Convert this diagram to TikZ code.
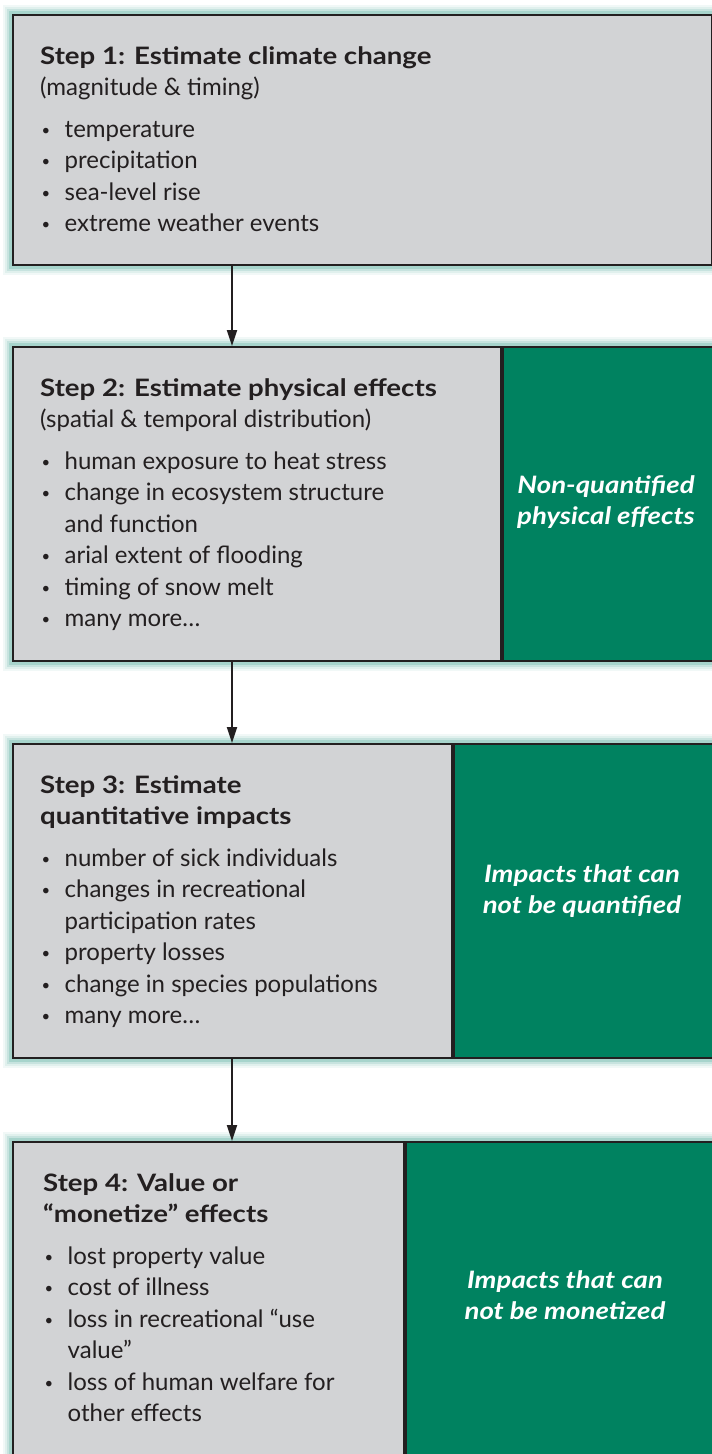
\documentclass[tikz,border=0pt]{standalone}
\usepackage{fontspec}
\setmainfont{Lato}[BoldFeatures={FakeStretch=1.15},BoldItalicFeatures={FakeStretch=1.15}]
\usetikzlibrary{arrows.meta,positioning}
\definecolor{boxgray}{RGB}{210,211,213}
\definecolor{boxline}{RGB}{35,31,32}
\definecolor{effgreen}{RGB}{0,130,96}
\definecolor{glowteal}{RGB}{20,140,120}
\newcommand{\bul}{\makebox[24.5pt][l]{\hspace{1.5pt}\raisebox{2pt}{\scalebox{0.62}{\textbullet}}}}
\newcommand{\cont}{\hspace*{24.5pt}}

\begin{document}
\begin{tikzpicture}[x=1pt,y=-1pt, every node/.style={font=\fontsize{24}{31.5}\selectfont},
      graybox/.style={draw=boxline,line width=2pt,fill=boxgray,anchor=north west,inner sep=0pt},
      greenbox/.style={draw=boxline,line width=2pt,fill=effgreen,anchor=north west,inner sep=0pt},
      steptext/.style={anchor=north west,align=left,inner sep=0pt,text=boxline},
      greentext/.style={align=center,inner sep=0pt,text=white,font=\fontsize{24}{31}\selectfont\bfseries\itshape},
      arr/.style={-{Triangle[length=16pt,width=10pt]},line width=2pt,draw=boxline}]
  \useasboundingbox (0,0) rectangle (712,1454);
  % soft glow behind the boxes
  \foreach \r/\o in {9/0.06,7/0.08,5/0.12,3/0.18} {
    \fill[glowteal,opacity=\o] (12-\r,14-\r) rectangle (711+\r,264+\r+2);
    \fill[glowteal,opacity=\o] (12-\r,346-\r) rectangle (712,660+\r+2);
    \fill[glowteal,opacity=\o] (12-\r,743-\r) rectangle (712,1057+\r+2);
    \fill[glowteal,opacity=\o] (12-\r,1141-\r) rectangle (712,1454);
  }
  % boxes
  \node[graybox,minimum width=699pt,minimum height=250pt] (s1) at (12,14) {};
  \node[graybox,minimum width=488pt,minimum height=314pt] (s2) at (12,346) {};
  \node[greenbox,minimum width=214pt,minimum height=314pt] (g2) at (s2.north east) {};
  \node[graybox,minimum width=439pt,minimum height=314pt] (s3) at (12,743) {};
  \node[greenbox,minimum width=263pt,minimum height=314pt] (g3) at (s3.north east) {};
  \node[graybox,minimum width=391pt,minimum height=330pt] (s4) at (12,1141) {};
  \node[greenbox,minimum width=311pt,minimum height=330pt] (g4) at (s4.north east) {};
  % step texts
  \node[steptext] (t1) at (40,46) {\textbf{Step 1: Estimate climate change}\\
      (magnitude \& timing)\\[10pt]
      \bul temperature\\ \bul precipitation\\ \bul sea-level rise\\ \bul extreme weather events};
  \node[steptext] (t2) at (40,378) {\textbf{Step 2: Estimate physical effects}\\
      (spatial \& temporal distribution)\\[10pt]
      \bul human exposure to heat stress\\ \bul change in ecosystem structure\\
      \cont and function\\ \bul arial extent of flooding\\ \bul timing of snow melt\\
      \bul many more\dots};
  \node[steptext] (t3) at (40,775) {\textbf{Step 3: Estimate}\\ \textbf{quantitative impacts}\\[10pt]
      \bul number of sick individuals\\ \bul changes in recreational\\
      \cont participation rates\\ \bul property losses\\
      \bul change in species populations\\ \bul many more\dots};
  \node[steptext] (t4) at (43,1173) {\textbf{Step 4: Value or}\\ \textbf{``monetize'' effects}\\[10pt]
      \bul lost property value\\ \bul cost of illness\\ \bul loss in recreational ``use\\
      \cont value''\\ \bul loss of human welfare for\\ \cont other effects};
  % right-hand labels
  \node[greentext] (n2) at (606,502) {Non-quantified\\physical effects};
  \node[greentext] (n3) at (582,891) {Impacts that can\\not be quantified};
  \node[greentext] (n4) at (565,1295) {Impacts that can\\not be monetized};
  % arrows
  \draw[arr] ([xshift=220pt]s1.south west) -- ([xshift=220pt]s2.north west);
  \draw[arr] ([xshift=220pt]s2.south west) -- ([xshift=220pt]s3.north west);
  \draw[arr] ([xshift=220pt]s3.south west) -- ([xshift=220pt]s4.north west);
\end{tikzpicture}
\end{document}
